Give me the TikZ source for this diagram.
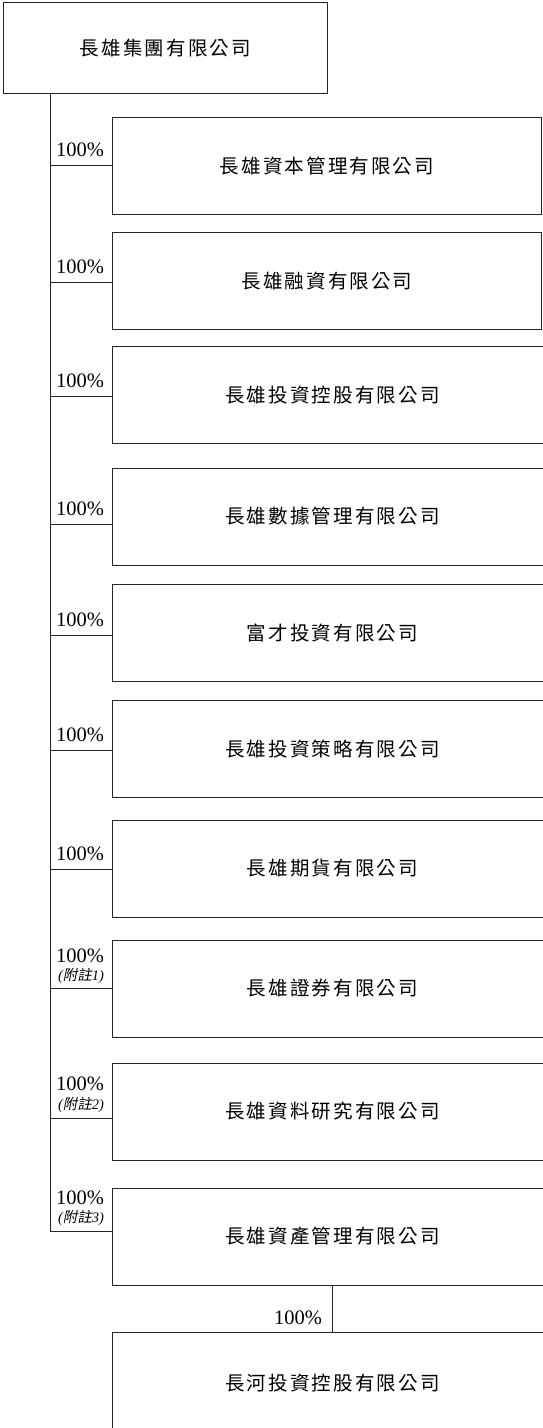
\documentclass[tikz,border=0pt]{standalone}
\usepackage{fontspec}
\setmainfont{Liberation Serif}
\newfontfamily\cjk{Noto Sans CJK TC}[LetterSpace=11]
\newfontfamily\cjkslant{Noto Sans CJK TC}[FakeSlant=0.2]
\newcommand{\notetxt}[1]{{\itshape(}{\cjkslant 附註}{\itshape #1)}}
\begin{document}
\begin{tikzpicture}[x=1pt,y=-1pt,
  box/.style={draw=black!85, line width=0.9pt, rectangle, anchor=north west,
    inner sep=0pt, minimum height=97pt, font=\cjk\fontsize{19.5}{22}\selectfont},
  narrowbox/.style={box, minimum width=429pt},
  widebox/.style={box, minimum width=440pt},
  ln/.style={draw=black!85, line width=0.9pt},
  pct/.style={font=\fontsize{20.5}{22}\selectfont, inner sep=0pt},
  note/.style={font=\fontsize{14.5}{16}\selectfont, inner sep=0pt}]
\useasboundingbox (0,0) rectangle (543,1428);
\clip (0,0) rectangle (543,1428);

% root
\node[box, minimum width=324pt, minimum height=91pt] (root) at (3,2) {長雄集團有限公司};

% children
\node[narrowbox] (b1) at (112,117) {長雄資本管理有限公司};
\node[narrowbox] (b2) at (112,232) {長雄融資有限公司};
\node[widebox] (b3) at (112,346) {長雄投資控股有限公司};
\node[widebox] (b4) at (112,467.5) {長雄數據管理有限公司};
\node[widebox] (b5) at (112,584) {富才投資有限公司};
\node[widebox] (b6) at (112,700) {長雄投資策略有限公司};
\node[widebox] (b7) at (112,819.5) {長雄期貨有限公司};
\node[widebox] (b8) at (112,939.5) {長雄證券有限公司};
\node[widebox] (b9) at (112,1062.5) {長雄資料研究有限公司};
\node[widebox] (b10) at (112,1187.5) {長雄資產管理有限公司};
\node[widebox, minimum height=102pt] (b11) at (112,1332) {長河投資控股有限公司};

% junctions on the trunk
\coordinate (t0) at (50,93);
\coordinate (j1) at (50,165);
\coordinate (j2) at (50,282);
\coordinate (j3) at (50,396);
\coordinate (j4) at (50,524);
\coordinate (j5) at (50,635);
\coordinate (j6) at (50,750);
\coordinate (j7) at (50,869);
\coordinate (j8) at (50,988);
\coordinate (j9) at (50,1118);
\coordinate (j10) at (50,1231);

% trunk and branches
\draw[ln] (t0) -- (j10) -- (j10 -| b10.west);
\foreach \k in {1,...,9} {
  \draw[ln] (j\k) -- (j\k -| b\k.west);
}
% b10 -> b11
\coordinate (d0) at (332,1285);
\draw[ln] (b10.south -| d0) -- (b11.north -| d0);

% labels
\node[pct] (l1) at (80,150) {100\%};
\node[pct] (l2) at (80,267) {100\%};
\node[pct] (l3) at (80,381) {100\%};
\node[pct] (l4) at (80,509) {100\%};
\node[pct] (l5) at (80,620) {100\%};
\node[pct] (l6) at (80,735) {100\%};
\node[pct] (l7) at (80,854) {100\%};
\node[pct] (l8) at (80,956) {100\%};
\node[note] (n8) at (81,976) {\notetxt{1}};
\node[pct] (l9) at (80,1084) {100\%};
\node[note] (n9) at (81,1105) {\notetxt{2}};
\node[pct] (l10) at (80,1198) {100\%};
\node[note] (n10) at (81,1218) {\notetxt{3}};
\node[pct] (l11) at (298,1318) {100\%};
\end{tikzpicture}
\end{document}
